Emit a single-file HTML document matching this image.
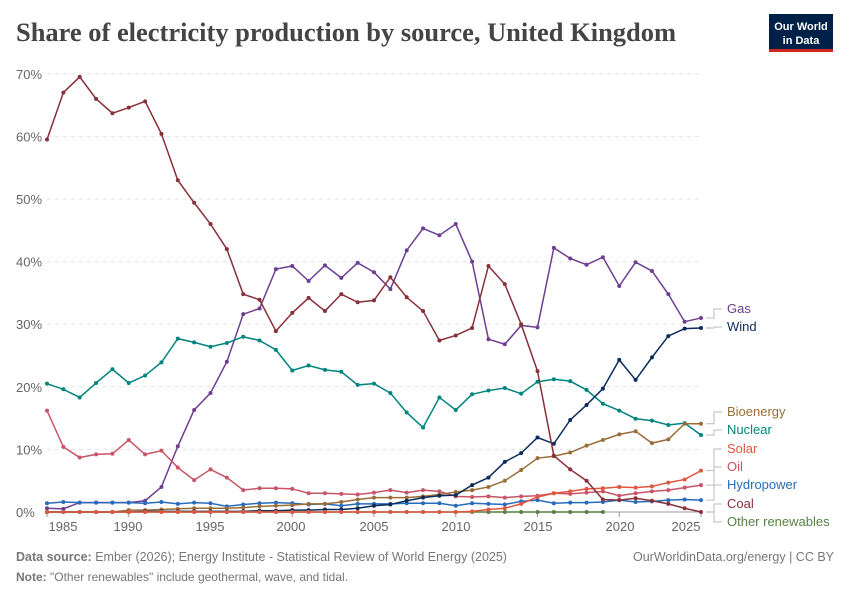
<!DOCTYPE html>
<html><head><meta charset="utf-8">
<style>
body{margin:0;background:#fff;width:850px;height:600px;overflow:hidden;font-family:"Liberation Sans",sans-serif;}
svg text{font-family:"Liberation Sans",sans-serif;}
</style></head>
<body>
<svg id="c" width="850" height="600" xmlns="http://www.w3.org/2000/svg">
<text x="16" y="41" font-size="26" font-weight="bold" fill="#444" textLength="660" lengthAdjust="spacingAndGlyphs" style="font-family:'Liberation Serif',serif">Share of electricity production by source, United Kingdom</text>
<rect x="769" y="14" width="64" height="36" fill="#002147"/>
<rect x="769" y="49" width="64" height="3" fill="#ce261e"/>
<text x="801" y="30" font-size="11" fill="#fff" text-anchor="middle" font-weight="bold">Our World</text>
<text x="801" y="44" font-size="11" fill="#fff" text-anchor="middle" font-weight="bold">in Data</text>
<text x="16" y="561" font-size="12.5" fill="#777"><tspan font-weight="bold">Data source:</tspan> Ember (2026); Energy Institute - Statistical Review of World Energy (2025)</text>
<text x="834" y="561" font-size="12.5" fill="#777" text-anchor="end">OurWorldinData.org/energy | CC BY</text>
<text x="16" y="581" font-size="12" fill="#777"><tspan font-weight="bold">Note:</tspan> "Other renewables" include geothermal, wave, and tidal.</text>
<g id="g"></g>
</svg>
<script>
const X=y=>47+(y-1985)*16.35, Y=v=>512-v*6.26;
let s='';
for(let i=0;i<=7;i++){const y=Y(i*10);
 if(i>0)s+=`<line x1="47" x2="703" y1="${y}" y2="${y}" stroke="#e2e2e2" stroke-dasharray="4,4"/>`;
 s+=`<text x="16" y="${y+5}" font-size="13" fill="#666">${i*10}%</text>`;}
s+=`<line x1="47" x2="703" y1="512" y2="512" stroke="#999"/>`;
[[1985,63],[1990,128],[1995,210],[2000,291],[2005,374],[2010,456],[2015,538],[2020,620],[2025,686]].forEach(([t,x])=>{
 s+=`<line x1="${X(t)}" x2="${X(t)}" y1="512" y2="517" stroke="#999"/><text x="${x}" y="531" font-size="13" fill="#666" text-anchor="middle">${t}</text>`;});
function ser(start,vals,c){let p=vals.map((v,i)=>[X(start+i),Y(v)]);
 s+=`<polyline fill="none" stroke="${c}" stroke-width="1.5" points="${p.map(q=>q.join(',')).join(' ')}"/>`;
 p.forEach(q=>s+=`<circle cx="${q[0]}" cy="${q[1]}" r="2" fill="${c}"/>`);}
const z=n=>Array(n).fill(0);
ser(1985,[0.6,0.5,1.5,1.5,1.5,1.5,1.8,4,10.5,16.3,19,24,31.6,32.5,38.8,39.3,36.9,39.4,37.4,39.8,38.3,35.6,41.8,45.3,44.2,46,40,27.6,26.8,29.8,29.5,42.2,40.5,39.5,40.7,36.1,39.9,38.5,34.8,30.4,31],'#6d3e91');
ser(1985,[1.4,1.6,1.5,1.5,1.5,1.5,1.4,1.6,1.3,1.5,1.4,0.9,1.2,1.4,1.5,1.4,1.2,1.3,1,1.3,1.3,1.3,1.4,1.4,1.4,1,1.4,1.3,1.2,1.7,1.9,1.4,1.5,1.5,1.6,1.9,1.6,1.7,1.9,2,1.9],'#286bbb');
ser(1985,[16.2,10.4,8.7,9.2,9.3,11.5,9.2,9.8,7.1,5.1,6.8,5.5,3.5,3.8,3.8,3.7,3,3,2.9,2.8,3.1,3.5,3.1,3.5,3.3,2.5,2.4,2.5,2.3,2.5,2.6,3,2.9,3.1,3.3,2.6,3,3.3,3.5,3.9,4.3],'#c95468');
ser(1985,[20.5,19.6,18.3,20.6,22.8,20.6,21.8,23.9,27.7,27.1,26.4,27,28,27.4,25.9,22.6,23.4,22.7,22.4,20.3,20.5,19,15.9,13.5,18.3,16.3,18.8,19.4,19.8,18.9,20.8,21.2,20.9,19.5,17.3,16.2,14.9,14.6,13.9,14.2,12.3],'#00847e');
ser(1985,z(5).concat([0.3,0.3,0.4,0.5,0.6,0.6,0.6,0.7,0.9,1,1.1,1.3,1.3,1.6,2,2.3,2.3,2.3,2.5,2.8,3.2,3.5,4,5,6.7,8.6,8.9,9.5,10.6,11.5,12.4,12.9,11,11.6,14.1,14.1]),'#996d39');
ser(1985,z(6).concat([0.1,0.1,0.1,0.1,0.1,0.1,0.1,0.2,0.2,0.3,0.3,0.4,0.4,0.6,1,1.2,1.8,2.3,2.6,2.7,4.3,5.5,8,9.4,11.9,10.9,14.7,17.1,19.7,24.3,21.1,24.7,28.1,29.3,29.4]),'#0c2d5b');
ser(1985,z(35),'#578145');
ser(1985,z(26).concat([0.1,0.4,0.6,1.3,2.4,3,3.3,3.7,3.8,4,3.9,4.1,4.7,5.2,6.6]),'#e0563f');
ser(1985,[59.5,67,69.5,66,63.7,64.6,65.6,60.4,53,49.4,46,42,34.8,33.9,28.9,31.8,34.2,32.1,34.8,33.5,33.8,37.5,34.3,32.1,27.4,28.2,29.4,39.3,36.4,30,22.5,9,6.8,5,2,1.9,2.2,1.8,1.3,0.6,0],'#883039');
const L=[['Gas',31,313,'#6d3e91'],['Wind',29.4,331,'#0c2d5b'],['Bioenergy',14.1,416,'#996d39'],['Nuclear',12.3,434,'#00847e'],['Solar',6.6,453,'#e0563f'],['Oil',4.3,471,'#c95468'],['Hydropower',1.9,489,'#286bbb'],['Coal',0,508,'#883039'],['Other renewables',0,526,'#578145']];
L.forEach(([n,v,ly,c])=>{const y0=Y(v);
 s+=`<polyline fill="none" stroke="#bbb" points="706,${y0} 714,${y0} 714,${ly-4} 722,${ly-4}"/>`;
 s+=`<text x="727" y="${ly}" font-size="13" fill="${c}">${n}</text>`;});
document.getElementById('g').innerHTML=s;
</script>
</body></html>
